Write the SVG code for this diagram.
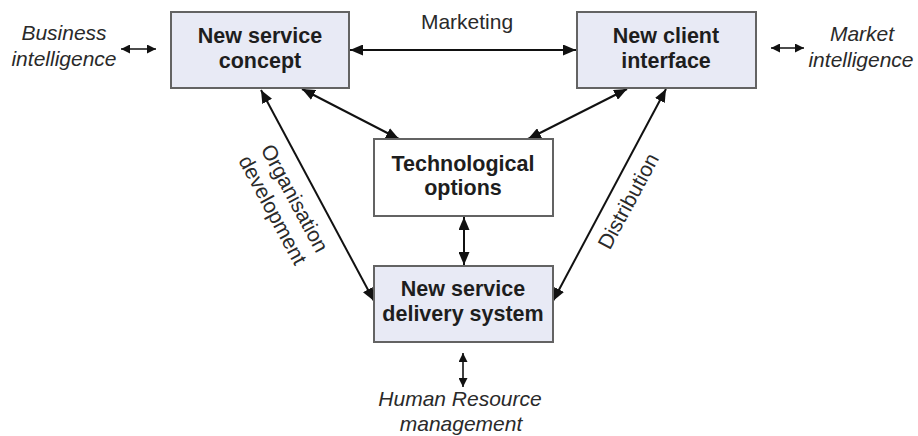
<svg xmlns="http://www.w3.org/2000/svg" width="918" height="436" viewBox="0 0 918 436">
<style>
.box{fill:#e8eaf5;stroke:#636363;stroke-width:2}
.wbox{fill:#ffffff;stroke:#636363;stroke-width:2}
.b{font-family:"Liberation Sans",Arial,sans-serif;font-weight:bold;font-size:21.5px;fill:#1e1e1e;text-anchor:middle}
.n{font-family:"Liberation Sans",Arial,sans-serif;font-size:21px;fill:#2a2a2a;text-anchor:middle}
.i{font-family:"Liberation Sans",Arial,sans-serif;font-style:italic;font-size:21px;fill:#2a2a2a;text-anchor:middle}
.c{stroke:#111;stroke-width:2;fill:none;marker-start:url(#ah);marker-end:url(#ah)}
.s{stroke:#111;stroke-width:1.6;fill:none;marker-start:url(#as);marker-end:url(#as)}
</style>
<defs>
<marker id="ah" markerUnits="userSpaceOnUse" markerWidth="14" markerHeight="11" refX="13" refY="5.5" orient="auto-start-reverse">
<path d="M0,0 L13,5.5 L0,11 z" fill="#111"/>
</marker>
<marker id="as" markerUnits="userSpaceOnUse" markerWidth="10" markerHeight="9" refX="9" refY="4.5" orient="auto-start-reverse">
<path d="M0,0 L9,4.5 L0,9 z" fill="#111"/>
</marker>
</defs>
<rect width="918" height="436" fill="#ffffff"/>
<g id="connectors">
<line class="c" x1="350" y1="50" x2="576" y2="50"/>
<line class="c" x1="261" y1="90" x2="374" y2="301"/>
<line class="c" x1="302" y1="89" x2="399" y2="139"/>
<line class="c" x1="627" y1="89" x2="528" y2="139"/>
<line class="c" x1="666" y1="89" x2="553" y2="301"/>
<line class="c" x1="464" y1="217" x2="464" y2="265"/>
<line class="s" x1="121" y1="49" x2="156" y2="49"/>
<line class="s" x1="771" y1="48" x2="804" y2="48"/>
<line class="s" x1="463" y1="353" x2="463" y2="387"/>
</g>
<g id="marketing-label"><text class="n" x="467" y="29">Marketing</text></g>
<g id="organisation-label" transform="translate(284,204) rotate(61.7)">
<text class="n" x="0" y="-5">Organisation</text>
<text class="n" x="0" y="20">development</text>
</g>
<g id="distribution-label" transform="translate(628,201) rotate(-61.7)">
<text class="n" x="0" y="7.5">Distribution</text>
</g>
<g id="business-intelligence">
<text class="i" x="64" y="40">Business</text>
<text class="i" x="64" y="66">intelligence</text>
</g>
<g id="market-intelligence">
<text class="i" x="862" y="41">Market</text>
<text class="i" x="861" y="67">intelligence</text>
</g>
<g id="hr-management">
<text class="i" x="460" y="406">Human Resource</text>
<text class="i" x="461" y="431">management</text>
</g>
<g id="new-service-concept">
<rect class="box" x="171" y="12" width="178" height="76"/>
<text class="b" x="260" y="43">New service</text>
<text class="b" x="260" y="68">concept</text>
</g>
<g id="new-client-interface">
<rect class="box" x="577" y="12" width="179" height="76"/>
<text class="b" x="666" y="43">New client</text>
<text class="b" x="666" y="68">interface</text>
</g>
<g id="technological-options">
<rect class="wbox" x="374" y="139" width="179" height="77"/>
<text class="b" x="463" y="171">Technological</text>
<text class="b" x="463" y="195">options</text>
</g>
<g id="new-service-delivery-system">
<rect class="box" x="374" y="266" width="179" height="76"/>
<text class="b" x="463" y="296">New service</text>
<text class="b" x="463" y="321">delivery system</text>
</g>
</svg>
